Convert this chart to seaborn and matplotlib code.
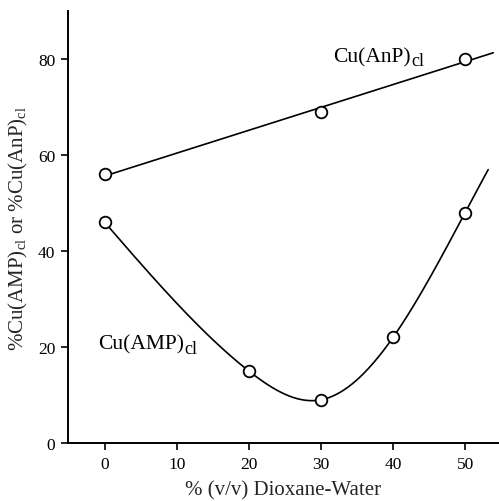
import numpy as np
import pandas as pd
import matplotlib
matplotlib.use("Agg")
import matplotlib.pyplot as plt
import seaborn as sns

# Data
dioxane_anp = [0, 30, 50]
pct_anp = [56, 69, 80]
dioxane_amp = [0, 20, 30, 40, 50]
pct_amp = [46, 15, 9, 22, 48]
x_ticks = [0, 10, 20, 30, 40, 50]
y_ticks = [0, 20, 40, 60, 80]

sns.set_style("ticks")
plt.rcParams['font.family'] = ['Liberation Serif', 'DejaVu Serif']
plt.rcParams['mathtext.fontset'] = 'custom'
plt.rcParams['mathtext.rm'] = 'Liberation Serif'
plt.rcParams['mathtext.it'] = 'Liberation Serif'


def natural_spline(xk, yk, xs):
    xk = np.asarray(xk, float)
    yk = np.asarray(yk, float)
    n = len(xk)
    h = np.diff(xk)
    A = np.zeros((n, n))
    r = np.zeros(n)
    A[0, 0] = A[-1, -1] = 1
    for i in range(1, n - 1):
        A[i, i - 1] = h[i - 1]
        A[i, i] = 2 * (h[i - 1] + h[i])
        A[i, i + 1] = h[i]
        r[i] = 6 * ((yk[i + 1] - yk[i]) / h[i] - (yk[i] - yk[i - 1]) / h[i - 1])
    M = np.linalg.solve(A, r)
    out = []
    for x in xs:
        i = int(np.clip(np.searchsorted(xk, x) - 1, 0, n - 2))
        a, b = xk[i], xk[i + 1]
        hh = b - a
        t1, t2 = b - x, x - a
        y = (M[i] * t1 ** 3 + M[i + 1] * t2 ** 3) / (6 * hh) \
            + (yk[i] / hh - M[i] * hh / 6) * t1 + (yk[i + 1] / hh - M[i + 1] * hh / 6) * t2
        out.append(y)
    return np.array(out)


fig = plt.figure(figsize=(4.99, 5.02), dpi=100)
ax = fig.add_axes([0.136, 0.1155, 0.864, 0.8605])

# guide curves through the measured points
xa = np.linspace(0, 53.9, 200)
pa = np.polyfit(dioxane_anp, pct_anp, 1)
xb = np.linspace(0, 53.2, 300)
curves = pd.DataFrame({
    "x": np.concatenate([xa, xb]),
    "y": np.concatenate([np.polyval(pa, xa), natural_spline(dioxane_amp, pct_amp, xb)]),
    "s": ["AnP"] * len(xa) + ["AMP"] * len(xb),
})
sns.lineplot(data=curves, x="x", y="y", units="s", estimator=None,
             color="black", lw=1.2, ax=ax, sort=False)

pts = pd.DataFrame({"x": dioxane_anp + dioxane_amp, "y": pct_anp + pct_amp})
sns.scatterplot(data=pts, x="x", y="y", s=70, facecolor="white",
                edgecolor="black", linewidth=1.3, ax=ax, zorder=3)

ax.set_xlim(-5.1, 54.7)
ax.set_ylim(0, 90)
ax.set_xticks(x_ticks)
ax.set_yticks(y_ticks)
ax.tick_params(direction="out", length=5, width=1.2, labelsize=12.5,
               colors="black", pad=4)
for s in ["top", "right"]:
    ax.spines[s].set_visible(False)
for s in ["left", "bottom"]:
    ax.spines[s].set_linewidth(1.4)
    ax.spines[s].set_color("black")

ax.set_xlabel("% (v/v) Dioxane-Water", fontsize=15, labelpad=6)
ax.set_ylabel(r"%Cu(AMP)$_{\rm cl}$ or %Cu(AnP)$_{\rm cl}$", fontsize=15, labelpad=6)


def label(x, y, main, sub):
    t = ax.text(x, y, main, fontsize=15.5, ha="left", va="baseline", color="black")
    ax.annotate(sub, xy=(1, 0), xycoords=t, xytext=(0.5, 0.8),
                textcoords="offset points", fontsize=13, ha="left",
                va="baseline", color="black")


label(31.7, 79.5, "Cu(AnP)", "cl")
label(-0.9, 19.6, "Cu(AMP)", "cl")

fig.savefig("out.png", dpi=100)
